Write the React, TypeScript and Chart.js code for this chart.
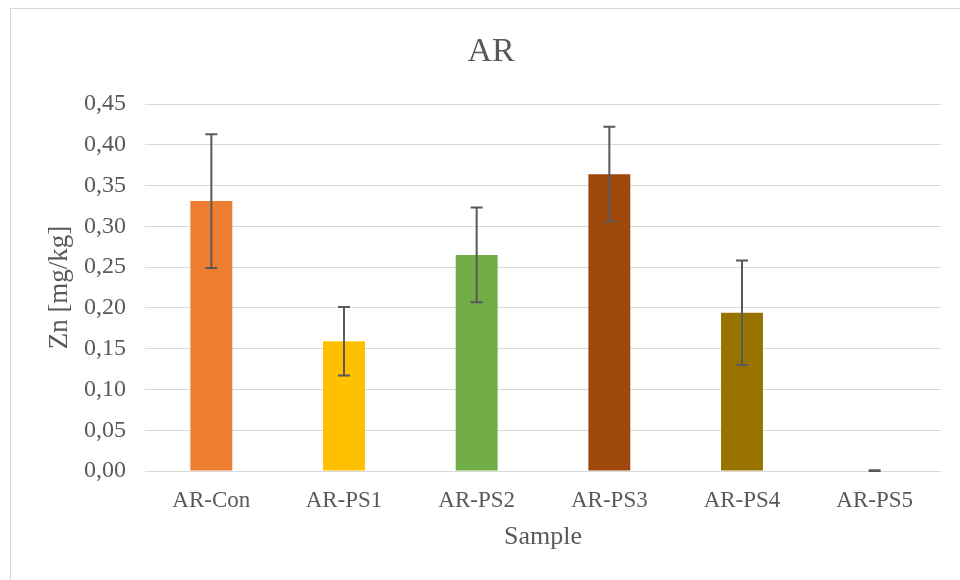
import React, { useEffect, useRef } from "react";
import { Chart, registerables } from "chart.js";

Chart.register(...registerables);

const categories = ["AR-Con", "AR-PS1", "AR-PS2", "AR-PS3", "AR-PS4", "AR-PS5"];
const values = [0.331, 0.159, 0.265, 0.364, 0.194, 0.0005];
const errors = [0.082, 0.042, 0.058, 0.058, 0.064, 0.0005];
const barColors = ["#ED7D31", "#FFC000", "#70AD47", "#9E480E", "#997300", "#264478"];
const yMin = 0;
const yMax = 0.45;
const yStep = 0.05;
const chartTitle = "AR";
const xTitle = "Sample";
const yTitle = "Zn [mg/kg]";

const FONT = "'Liberation Serif', 'Times New Roman', serif";
const TEXT = "#595959";

const errorBarPlugin = {
  id: "errorBars",
  afterDatasetsDraw(chart: any) {
    const ctx = chart.ctx;
    const meta = chart.getDatasetMeta(0);
    const yScale = chart.scales.y;
    ctx.save();
    ctx.strokeStyle = "#595959";
    ctx.lineWidth = 2;
    meta.data.forEach((bar: any, i: number) => {
      const x = bar.x;
      const top = yScale.getPixelForValue(values[i] + errors[i]);
      const bottom = yScale.getPixelForValue(Math.max(0, values[i] - errors[i]));
      const cap = 6;
      ctx.beginPath();
      ctx.moveTo(x, top);
      ctx.lineTo(x, bottom);
      ctx.moveTo(x - cap, top);
      ctx.lineTo(x + cap, top);
      ctx.moveTo(x - cap, bottom);
      ctx.lineTo(x + cap, bottom);
      ctx.stroke();
    });
    ctx.restore();
  },
};

const centeredTitlePlugin = {
  id: "centeredTitle",
  afterDraw(chart: any) {
    const ctx = chart.ctx;
    ctx.save();
    ctx.fillStyle = TEXT;
    ctx.font = `34px ${FONT}`;
    ctx.textAlign = "center";
    ctx.textBaseline = "middle";
    ctx.fillText(chartTitle, chart.width / 2, 43);
    ctx.restore();
  },
};

export default function App() {
  const canvasRef = useRef<HTMLCanvasElement | null>(null);

  useEffect(() => {
    document.body.style.margin = "0";
    document.body.style.overflow = "hidden";
    if (!canvasRef.current) return;
    const chart = new Chart(canvasRef.current, {
      type: "bar",
      data: {
        labels: categories,
        datasets: [
          {
            data: values,
            backgroundColor: barColors,
            borderWidth: 0,
            barPercentage: 0.316,
            categoryPercentage: 1,
          },
        ],
      },
      options: {
        responsive: false,
        animation: false,
        devicePixelRatio: 1,
        layout: { padding: { left: 0, right: 30, top: 95, bottom: 0 } },
        plugins: {
          legend: { display: false },
          tooltip: { enabled: false },
          title: { display: false },
        },
        scales: {
          x: {
            grid: { display: false, drawTicks: false },
            border: { display: false },
            ticks: {
              color: TEXT,
              font: { family: FONT, size: 23 },
              padding: 16,
              maxRotation: 0,
            },
            title: {
              display: true,
              text: xTitle,
              color: TEXT,
              font: { family: FONT, size: 26 },
              padding: { top: 0, bottom: 27 },
            },
            afterFit(scale: any) {
              scale.height = 109;
            },
          },
          y: {
            min: yMin,
            max: yMax,
            grid: { color: "#D9D9D9", lineWidth: 1, drawTicks: false },
            border: { display: false },
            ticks: {
              stepSize: yStep,
              color: TEXT,
              font: { family: FONT, size: 24 },
              padding: 19,
              callback: (v: any) => Number(v).toFixed(2).replace(".", ","),
            },
            title: {
              display: true,
              text: yTitle,
              color: TEXT,
              font: { family: FONT, size: 27 },
              padding: { top: 33, bottom: 0 },
            },
            afterFit(scale: any) {
              scale.width = 134;
            },
          },
        },
      },
      plugins: [errorBarPlugin, centeredTitlePlugin],
    });
    return () => chart.destroy();
  }, []);

  return (
    <div style={{ position: "relative", width: 960, height: 580, overflow: "hidden", background: "#fff" }}>
      <div
        style={{
          position: "absolute",
          left: 10,
          top: 8,
          width: 960,
          height: 580,
          border: "1px solid #D9D9D9",
          background: "#fff",
        }}
      >
        <canvas ref={canvasRef} width={960} height={571} style={{ display: "block" }} />
      </div>
    </div>
  );
}
